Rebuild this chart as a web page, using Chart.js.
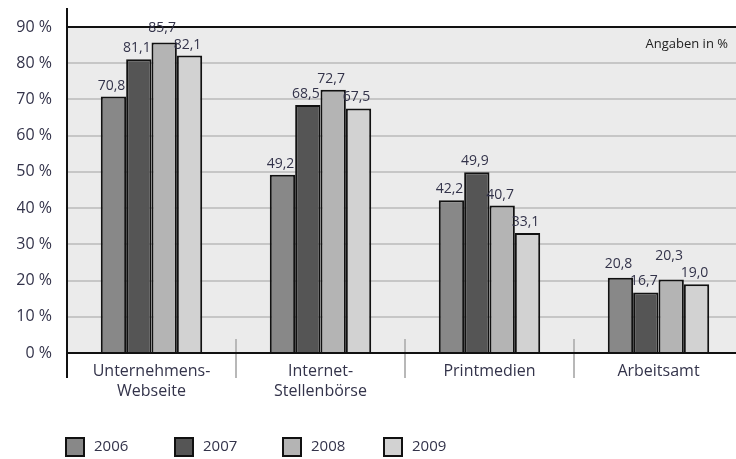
<!DOCTYPE html>
<html>
<head>
<meta charset="utf-8">
<script src="https://cdn.jsdelivr.net/npm/chart.js@4/dist/chart.umd.min.js"></script>
<style>
  html, body { margin: 0; padding: 0; background: #fff; overflow: hidden; }
</style>
</head>
<body>
<canvas id="chart" width="743" height="459"></canvas>
<script>
const categories = [['Unternehmens-', 'Webseite'], ['Internet-', 'Stellenbörse'], 'Printmedien', 'Arbeitsamt'];
const years = ['2006', '2007', '2008', '2009'];
const values2006 = [70.8, 49.2, 42.2, 20.8];
const values2007 = [81.1, 68.5, 49.9, 16.7];
const values2008 = [85.7, 72.7, 40.7, 20.3];
const values2009 = [82.1, 67.5, 33.1, 19.0];
const yTickValues = [0, 10, 20, 30, 40, 50, 60, 70, 80, 90];
const noteText = 'Angaben in %';

const FONT = '"Open Sans", "Noto Sans", sans-serif';
const TEXT = '#33334a';
const barColors = ['#888888', '#555555', '#b4b4b4', '#d2d2d2'];
const seriesValues = [values2006, values2007, values2008, values2009];
const legendX = [66, 175, 283, 384];

const fmt = v => v.toFixed(1).replace('.', ',');

// grey plot background
const backgroundPlugin = {
  id: 'plotBg',
  beforeDraw(chart) {
    const { ctx, chartArea: a } = chart;
    ctx.save();
    ctx.fillStyle = '#ebebeb';
    ctx.fillRect(a.left, a.top, a.right - a.left, a.bottom - a.top);
    ctx.restore();
  }
};

// axis frame, category separators, value labels, note, legend
const decorPlugin = {
  id: 'decor',
  afterDatasetsDraw(chart) {
    const { ctx, chartArea: a, scales: { x, y } } = chart;
    ctx.save();

    // separators between categories
    ctx.strokeStyle = '#b8b8b8';
    ctx.lineWidth = 2;
    for (let i = 0; i < categories.length - 1; i++) {
      const sx = Math.round((x.getPixelForTick(i) + x.getPixelForTick(i + 1)) / 2);
      ctx.beginPath();
      ctx.moveTo(sx, a.bottom - 14);
      ctx.lineTo(sx, a.bottom + 25);
      ctx.stroke();
    }

    // black top line, baseline and left axis
    ctx.strokeStyle = '#111';
    ctx.lineWidth = 2;
    ctx.beginPath();
    ctx.moveTo(a.left, y.getPixelForValue(90));
    ctx.lineTo(a.right, y.getPixelForValue(90));
    ctx.moveTo(a.left, y.getPixelForValue(0));
    ctx.lineTo(a.right, y.getPixelForValue(0));
    ctx.moveTo(a.left, a.top - 19);
    ctx.lineTo(a.left, a.bottom + 25);
    ctx.stroke();

    // value labels above bars
    ctx.font = '14px ' + FONT;
    ctx.fillStyle = TEXT;
    ctx.textAlign = 'center';
    ctx.textBaseline = 'middle';
    for (let c = 0; c < categories.length; c++) {
      const items = chart.data.datasets.map((ds, d) => {
        const bar = chart.getDatasetMeta(d).data[c];
        return { x: bar.x - 2, y: bar.y - 11, v: ds.data[c] };
      });
      // lift the taller label when two neighbours collide
      for (let i = 0; i < items.length - 1; i++) {
        const p = items[i], q = items[i + 1];
        if (Math.abs(p.y - q.y) < 15) {
          if (p.v >= q.v) p.y = q.y - 17; else q.y = p.y - 17;
        }
      }
      items.forEach(it => ctx.fillText(fmt(it.v), it.x, it.y));
    }

    // note top right
    ctx.font = '13px ' + FONT;
    ctx.textAlign = 'right';
    ctx.fillStyle = '#222';
    ctx.fillText(noteText, 728, 44);

    // legend
    ctx.font = '15px ' + FONT;
    ctx.textAlign = 'left';
    chart.data.datasets.forEach((ds, i) => {
      const lx = legendX[i], ly = 438;
      ctx.fillStyle = ds.backgroundColor;
      ctx.fillRect(lx, ly, 18, 18);
      ctx.strokeStyle = '#111';
      ctx.lineWidth = 2;
      ctx.strokeRect(lx, ly, 18, 18);
      ctx.fillStyle = TEXT;
      ctx.fillText(ds.label, lx + 28, ly + 9);
    });
    ctx.restore();
  }
};

new Chart(document.getElementById('chart'), {
  type: 'bar',
  data: {
    labels: categories,
    datasets: years.map((yr, i) => ({
      label: yr,
      data: seriesValues[i],
      backgroundColor: barColors[i],
      borderColor: '#111',
      borderWidth: 2,
      borderSkipped: 'bottom',
      categoryPercentage: 0.6,
      barPercentage: 1.0
    }))
  },
  options: {
    responsive: false,
    animation: false,
    layout: { padding: { left: 17, top: 27, right: 0, bottom: 46 } },
    plugins: {
      legend: { display: false },
      tooltip: { enabled: false }
    },
    scales: {
      x: {
        grid: { display: false },
        border: { display: false },
        ticks: { color: TEXT, font: { family: FONT, size: 16, lineHeight: 1.25 }, padding: 0 },
        afterFit(scale) { scale.height = 60; }
      },
      y: {
        min: 0,
        max: 90,
        afterBuildTicks(scale) { scale.ticks = yTickValues.map(v => ({ value: v })); },
        grid: { color: '#c6c6c6', lineWidth: 2, drawTicks: false },
        border: { display: false },
        ticks: {
          color: TEXT,
          padding: 15,
          font: { family: FONT, size: 16 },
          callback: v => v + ' %'
        },
        afterFit(scale) { scale.width = 50; }
      }
    }
  },
  plugins: [backgroundPlugin, decorPlugin]
});
</script>
</body>
</html>
